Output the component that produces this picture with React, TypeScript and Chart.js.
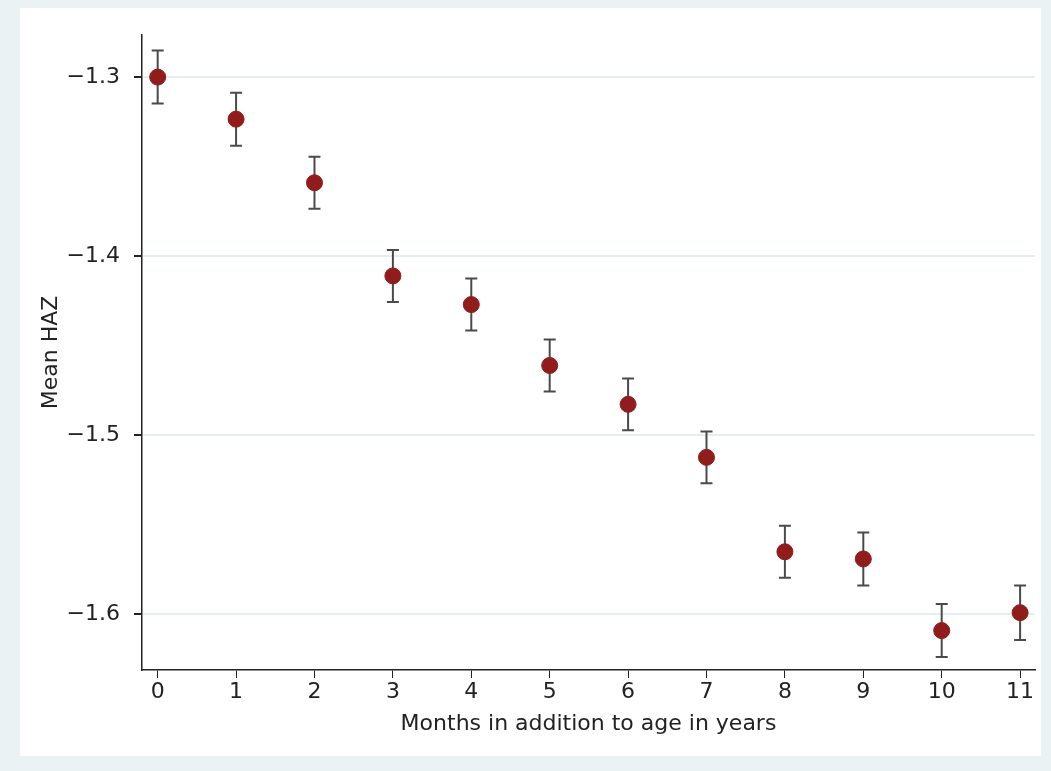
import React, { useEffect, useRef } from "react";
import { Chart, registerables } from "chart.js";
Chart.register(...registerables);

const months = [0, 1, 2, 3, 4, 5, 6, 7, 8, 9, 10, 11];
const meanHAZ = [-1.3, -1.3235, -1.359, -1.411, -1.427, -1.461, -1.4827, -1.5123, -1.565, -1.569, -1.609, -1.599];
const ciHalf = [0.0148, 0.0148, 0.0145, 0.0145, 0.0145, 0.0145, 0.0145, 0.0145, 0.0145, 0.0148, 0.0148, 0.0152];
const yTicks = [-1.3, -1.4, -1.5, -1.6];

const errorBars = {
  id: "errorBars",
  beforeDatasetsDraw(chart: any) {
    const { ctx, scales } = chart;
    ctx.save();
    ctx.strokeStyle = "#4a4a4a";
    ctx.lineWidth = 2;
    months.forEach((m, i) => {
      const x = scales.x.getPixelForValue(m);
      const y1 = scales.y.getPixelForValue(meanHAZ[i] + ciHalf[i]);
      const y2 = scales.y.getPixelForValue(meanHAZ[i] - ciHalf[i]);
      ctx.beginPath();
      ctx.moveTo(x, y1); ctx.lineTo(x, y2);
      ctx.moveTo(x - 6, y1); ctx.lineTo(x + 6, y1);
      ctx.moveTo(x - 6, y2); ctx.lineTo(x + 6, y2);
      ctx.stroke();
    });
    ctx.restore();
  },
};

const bg = {
  id: "bg",
  beforeDraw(chart: any) {
    const { ctx, width, height } = chart;
    ctx.save();
    ctx.fillStyle = "#eaf2f3";
    ctx.fillRect(0, 0, width, height);
    ctx.fillStyle = "#ffffff";
    ctx.fillRect(20, 8, width - 30, height - 23);
    ctx.restore();
  },
};

export default function App() {
  const ref = useRef<HTMLCanvasElement>(null);
  useEffect(() => {
    document.body.style.margin = "0";
    const font = { family: "'DejaVu Sans', sans-serif", size: 22 };
    const chart = new Chart(ref.current!, {
      type: "scatter",
      data: {
        datasets: [{
          data: months.map((m, i) => ({ x: m, y: meanHAZ[i] })),
          backgroundColor: "#901c1c",
          borderColor: "#901c1c",
          pointRadius: 8,
          pointHoverRadius: 8,
        }],
      },
      options: {
        animation: false,
        responsive: false,
        layout: { padding: { left: 34, top: 35, right: 16, bottom: 30 } },
        plugins: { legend: { display: false }, tooltip: { enabled: false } },
        scales: {
          x: {
            type: "linear", min: -0.2, max: 11.19,
            afterBuildTicks: (s: any) => { s.ticks = months.map((v) => ({ value: v })); },
            afterFit: (s: any) => { s.height = 71; },
            grid: { display: true, drawOnChartArea: false, drawTicks: true, tickLength: 8, tickColor: "#222" },
            border: { color: "#222", width: 1.5 },
            ticks: { color: "#222", font, padding: 1, callback: (v: any) => String(v) },
            title: { display: true, text: "Months in addition to age in years", color: "#222", font, padding: { top: 0 } },
          },
          y: {
            min: -1.631, max: -1.2765,
            afterBuildTicks: (s: any) => { s.ticks = yTicks.map((v) => ({ value: v })); },
            afterFit: (s: any) => { s.width = 108; },
            grid: { color: "#e4eef0", lineWidth: 2, tickColor: "#222", tickLength: 8 },
            border: { color: "#222", width: 1.5 },
            ticks: { color: "#222", font, padding: 14, callback: (v: any) => "\u2212" + Math.abs(v).toFixed(1) },
            title: { display: true, text: "Mean HAZ", color: "#222", font, padding: { bottom: 4 } },
          },
        },
      },
      plugins: [bg, errorBars],
    });
    return () => chart.destroy();
  }, []);
  return <canvas ref={ref} width={1051} height={771} style={{ display: "block" }} />;
}
